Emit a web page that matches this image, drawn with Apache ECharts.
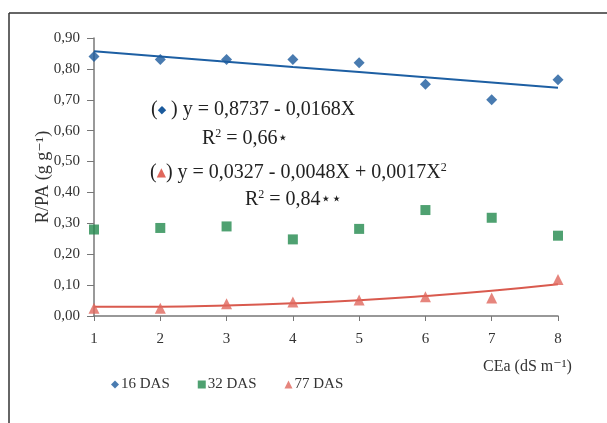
<!DOCTYPE html>
<html lang="pt">
<head>
    <meta charset="UTF-8" />
    <title>R/PA x CEa</title>
    <script src="https://cdn.jsdelivr.net/npm/echarts@6/dist/echarts.min.js"></script>
    <style>
        html, body { margin: 0; padding: 0; background: #fff; }
        #chart { width: 607px; height: 423px; }
    </style>
</head>
<body>
<div id="chart"></div>
<script type="text/javascript">
    // values
    const cea = [1, 2, 3, 4, 5, 6, 7, 8];
    const das16 = [0.84, 0.83, 0.83, 0.83, 0.82, 0.75, 0.70, 0.765];
    const das32 = [0.28, 0.285, 0.29, 0.248, 0.282, 0.343, 0.318, 0.26];
    const das77 = [0.025, 0.025, 0.04, 0.045, 0.052, 0.062, 0.058, 0.118];
    // fitted curves as drawn
    const fit16 = [0.857, 0.840, 0.823, 0.806, 0.790, 0.773, 0.756, 0.739];
    const fit77 = [0.030, 0.030, 0.034, 0.041, 0.051, 0.065, 0.082, 0.103];
    const yTicks = ['0,00', '0,10', '0,20', '0,30', '0,40', '0,50', '0,60', '0,70', '0,80', '0,90'];

    const serif = '"Liberation Serif", "DejaVu Serif", serif';
    const blue = '#1b5a9c', green = '#238a4e', red = '#e0675c';

    function pairs(ys) { return cea.map((x, i) => [x, ys[i]]); }

    // rich styles for the equation labels (superscripts, coloured symbols)
    const eqRich = {
        p: { fontFamily: serif, fontSize: 20, fill: '#222', lineHeight: 22, verticalAlign: 'bottom' },
        s: { fontFamily: serif, fontSize: 12, fill: '#222', lineHeight: 22, verticalAlign: 'top', padding: [1, 0, 0, 0] },
        st: { fontFamily: '"DejaVu Sans"', fontSize: 17, fill: '#222', lineHeight: 22, verticalAlign: 'bottom', padding: [0, 0, 2, 0] },
        b: { fontFamily: '"DejaVu Sans"', fontSize: 11, fill: blue, lineHeight: 22, verticalAlign: 'bottom', padding: [0, 0, 4, 0] },
        t: { fontFamily: '"DejaVu Sans"', fontSize: 12, fill: red, lineHeight: 22, verticalAlign: 'bottom', padding: [0, 0, 4, 0] }
    };

    let chart = echarts.init(document.getElementById('chart'), null, { renderer: 'canvas' });
    chart.setOption({
        animation: false,
        backgroundColor: '#fff',
        grid: { left: 94, right: 49, top: 38, bottom: 107 },
        xAxis: {
            type: 'value', min: 1, max: 8, interval: 1,
            axisLine: { lineStyle: { color: '#777', width: 1.5 } },
            axisTick: { inside: false, length: 5, lineStyle: { color: '#777' } },
            axisLabel: { color: '#333', fontFamily: serif, fontSize: 15, margin: 16 },
            splitLine: { show: false }
        },
        yAxis: {
            type: 'value', min: 0, max: 0.9, interval: 0.1,
            name: 'R/PA (g g\u207B\u00B9)',
            nameLocation: 'middle', nameGap: 42, nameMoveOverlap: false,
            nameTextStyle: { color: '#333', fontFamily: serif, fontSize: 18 },
            axisLine: { show: true, lineStyle: { color: '#777', width: 1.5 } },
            axisTick: { show: true, length: 7, lineStyle: { color: '#777' } },
            axisLabel: {
                color: '#333', fontFamily: serif, fontSize: 15, margin: 14,
                formatter: (v) => yTicks[Math.round(v * 10)]
            },
            splitLine: { show: false }
        },
        legend: {
            left: 106, top: 372, itemGap: 28, itemWidth: 8, itemHeight: 8,
            data: [
                { name: '16 DAS', icon: 'diamond' },
                { name: '32 DAS', icon: 'rect' },
                { name: '77 DAS', icon: 'triangle' }
            ],
            textStyle: { color: '#333', fontFamily: serif, fontSize: 15, padding: [0, 0, 0, -3] }
        },
        series: [
            {
                name: 'fit16', type: 'line', data: pairs(fit16), showSymbol: false,
                lineStyle: { color: '#1d5fa3', width: 2 }, silent: true, z: 1
            },
            {
                name: 'fit77', type: 'line', data: pairs(fit77), showSymbol: false, smooth: true,
                lineStyle: { color: '#d95a4e', width: 2 }, silent: true, z: 1
            },
            {
                name: '16 DAS', type: 'scatter', data: pairs(das16), symbol: 'diamond',
                symbolSize: 11, itemStyle: { color: blue }, z: 3
            },
            {
                name: '32 DAS', type: 'scatter', data: pairs(das32), symbol: 'rect',
                symbolSize: 10, itemStyle: { color: green }, z: 3
            },
            {
                name: '77 DAS', type: 'scatter', data: pairs(das77), symbol: 'triangle',
                symbolSize: 11, itemStyle: { color: red }, z: 3
            }
        ],
        graphic: [
            // frame of the original figure (left and top edges)
            { type: 'line', shape: { x1: 9, y1: 13, x2: 9, y2: 423 }, style: { stroke: '#333', lineWidth: 1.5 } },
            { type: 'line', shape: { x1: 9, y1: 13, x2: 607, y2: 13 }, style: { stroke: '#333', lineWidth: 1.5 } },
            {
                type: 'text', left: 151, top: 100,
                style: { text: '{p|(}{b|\u25C6}{p| ) y = 0,8737 - 0,0168X}', rich: eqRich }
            },
            {
                type: 'text', left: 202, top: 127,
                style: { text: '{p|R}{s|2}{p| = 0,66}{st|\u22C6}', rich: eqRich }
            },
            {
                type: 'text', left: 150, top: 161,
                style: { text: '{p|(}{t|\u25B2}{p|) y = 0,0327 - 0,0048X + 0,0017X}{s|2}', rich: eqRich }
            },
            {
                type: 'text', left: 245, top: 188,
                style: { text: '{p|R}{s|2}{p| = 0,84}{st|\u22C6\u22C6}', rich: eqRich }
            },
            {
                type: 'text', left: 483, top: 359,
                style: { text: 'CEa (dS m\u207B\u00B9)', font: '16px ' + serif, fill: '#333' }
            }
        ]
    });
</script>
</body>
</html>
